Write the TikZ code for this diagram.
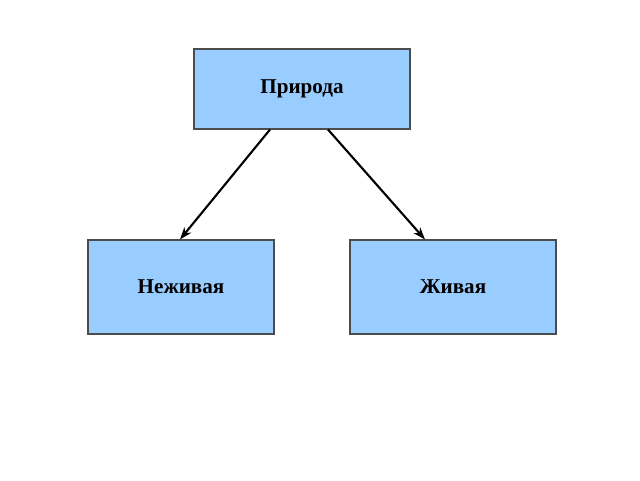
\documentclass[tikz,border=0pt]{standalone}
\usepackage{fontspec}
\setmainfont{Liberation Serif}
\usetikzlibrary{arrows.meta}
\definecolor{boxblue}{RGB}{153,204,255}
\tikzset{
  classbox/.style={draw=black!70, fill=boxblue, line width=0.6pt,
    font=\fontsize{12}{14}\selectfont\bfseries, inner sep=0pt},
  link/.style={line width=1.2pt, -{Stealth[length=7pt,width=5pt]}}
}
\begin{document}
\begin{tikzpicture}
  % frame of the page
  \useasboundingbox (0,0) rectangle (12.8,9.6);

  % boxes
  \node [classbox, minimum width=4.32cm, minimum height=1.6cm] (nature) at (6.04,7.82) {Природа};
  \node [classbox, minimum width=3.72cm, minimum height=1.88cm] (lifeless) at (3.62,3.86) {Неживая};
  \node [classbox, minimum width=4.12cm, minimum height=1.88cm] (living) at (9.06,3.86) {Живая};

  % arrows
  \draw [link] ([xshift=-0.64cm]nature.south) -- ([xshift=-0.02cm]lifeless.north);
  \draw [link] ([xshift=0.52cm]nature.south) -- ([xshift=-0.56cm]living.north);
\end{tikzpicture}
\end{document}
